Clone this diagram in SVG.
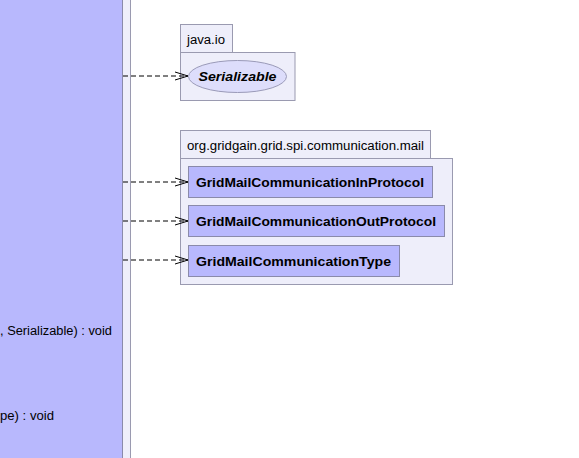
<svg xmlns="http://www.w3.org/2000/svg" width="579" height="458" viewBox="0 0 579 458">
<style>
.pkg{fill:#eeeefa;stroke:#9a9ab0;stroke-width:1}
.cls{fill:#b8b8fd;stroke:#8a8aaa;stroke-width:1}
.t{font-family:"Liberation Sans",Arial,sans-serif;font-size:12.5px;fill:#000}
.b{font-family:"Liberation Sans",Arial,sans-serif;font-size:13.5px;font-weight:bold;fill:#000}
.dep{stroke:#000;stroke-width:1;stroke-dasharray:5,3;fill:none}
</style>
<defs>
<marker id="open" markerWidth="16" markerHeight="12" refX="14" refY="6" orient="auto" markerUnits="userSpaceOnUse">
<path d="M1,2 L14,6 L1,10" fill="none" stroke="#000" stroke-width="1"/>
</marker>
</defs>
<rect width="579" height="458" fill="#fff"/>
<g id="outer-package">
<rect class="pkg" x="-10" y="-10" width="140.5" height="480"/>
</g>
<g id="main-class">
<rect class="cls" x="-10" y="-10" width="132.5" height="480"/>
<text class="t" x="0" y="334.5" textLength="112" lengthAdjust="spacingAndGlyphs">, Serializable) : void</text>
<text class="t" x="0" y="420" textLength="54" lengthAdjust="spacingAndGlyphs">pe) : void</text>
</g>
<g id="pkg-java-io">
<rect class="pkg" x="180.5" y="24.5" width="52" height="28"/>
<rect class="pkg" x="180.5" y="52.5" width="114.5" height="48"/>
<text class="t" x="187" y="43.5" textLength="38" lengthAdjust="spacingAndGlyphs">java.io</text>
</g>
<g id="Serializable">
<ellipse cx="237.5" cy="76.5" rx="49" ry="16" fill="#ddddfb" stroke="#9a9ab8"/>
<text class="b" x="237.5" y="81" text-anchor="middle" font-style="italic" textLength="78" lengthAdjust="spacingAndGlyphs">Serializable</text>
</g>
<g id="pkg-mail">
<rect class="pkg" x="180.5" y="130.5" width="250" height="28"/>
<rect class="pkg" x="180.5" y="158.5" width="272" height="126"/>
<text class="t" x="187" y="149.5" textLength="237" lengthAdjust="spacingAndGlyphs">org.gridgain.grid.spi.communication.mail</text>
</g>
<g id="GridMailCommunicationInProtocol">
<rect class="cls" x="188.5" y="166.5" width="244" height="31"/>
<text class="b" x="196" y="186.5" textLength="228" lengthAdjust="spacingAndGlyphs">GridMailCommunicationInProtocol</text>
</g>
<g id="GridMailCommunicationOutProtocol">
<rect class="cls" x="188.5" y="205.5" width="256" height="31"/>
<text class="b" x="196" y="225.5" textLength="240" lengthAdjust="spacingAndGlyphs">GridMailCommunicationOutProtocol</text>
</g>
<g id="GridMailCommunicationType">
<rect class="cls" x="188.5" y="245.5" width="211" height="31"/>
<text class="b" x="196" y="265.5" textLength="195" lengthAdjust="spacingAndGlyphs">GridMailCommunicationType</text>
</g>
<g id="connectors">
<line class="dep" x1="123" y1="76" x2="188" y2="76" marker-end="url(#open)"/>
<line class="dep" x1="123" y1="182" x2="188" y2="182" marker-end="url(#open)"/>
<line class="dep" x1="123" y1="221" x2="188" y2="221" marker-end="url(#open)"/>
<line class="dep" x1="123" y1="260" x2="188" y2="260" marker-end="url(#open)"/>
</g>
</svg>
